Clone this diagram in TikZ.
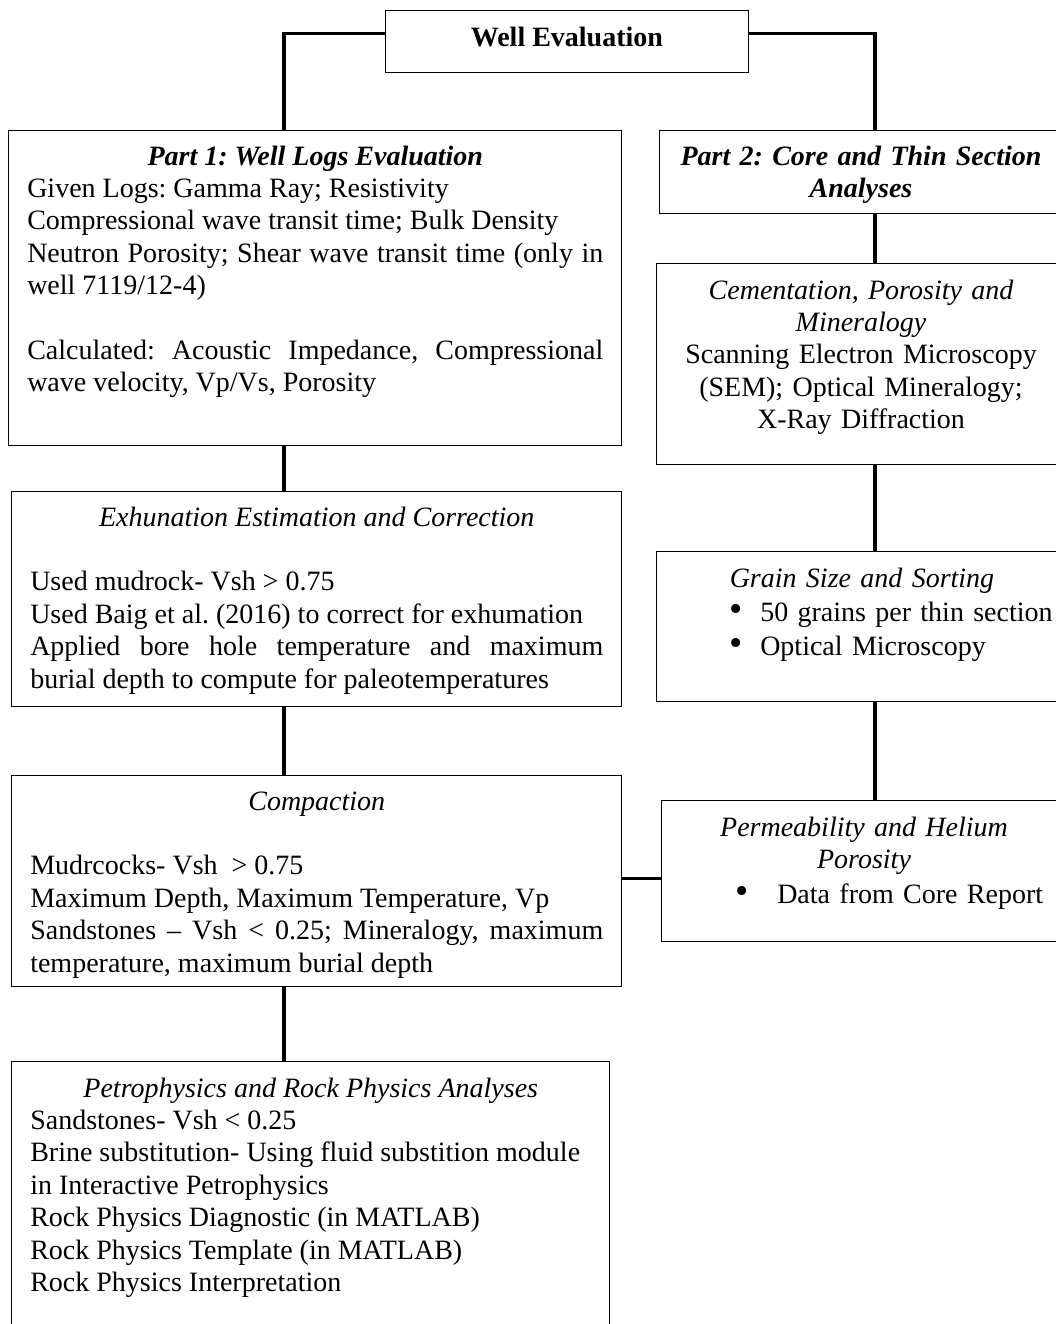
\documentclass[tikz,border=0pt]{standalone}
\usepackage{fontspec}
\setmainfont{Liberation Serif}
\usetikzlibrary{positioning}
\frenchspacing
\newcommand{\flowfont}{\fontsize{21}{24.3}\selectfont}
\newcommand{\flowbullet}{\scalebox{1.35}{\textbullet}}
\tikzset{
  box/.style 2 args={draw, line width=0.6pt, inner sep=0pt, anchor=north west,
    minimum width=#1*0.75pt, minimum height=#2*0.75pt},
  body/.style={inner sep=0pt, anchor=base west, align=justify, text width=#1*0.75pt},
  link/.style={line width=2.4pt}
}

\begin{document}
\begin{tikzpicture}[x=0.75pt, y=-0.75pt, font=\flowfont]
  \useasboundingbox (0,0) rectangle (1056,1324);
  \clip (0,0) rectangle (1056,1324);

  % boxes
  \node [box={363}{62}] (eval) at (385,10) {};
  \node [font=\flowfont\bfseries] at ([yshift=3pt]eval.center) {Well Evaluation};

  \node [box={613}{315}] (logs) at (8,130) {};
  \node [box={610}{215}] (exh) at (11,491) {};
  \node [box={610}{211}] (comp) at (11,775) {};
  \node [box={598}{270}] (petro) at (11,1061) {};

  \node [box={405}{83}] (part2) at (659,130) {};
  \node [box={408}{201}] (cem) at (656,263) {};
  \node [box={408}{150}] (grain) at (656,551) {};
  \node [box={403}{141}] (perm) at (661,800) {};

  % left column texts
  \node [body=576] (logstext) at (27,165) {%
    \makebox[\linewidth]{\bfseries\itshape Part 1: Well Logs Evaluation}\par
    Given Logs: Gamma Ray; Resistivity\par
    Compressional wave transit time; Bulk Density\par
    Neutron Porosity; Shear wave transit time (only in\linebreak
    well 7119/12-4)\par\vspace{\baselineskip}
    Calculated: Acoustic Impedance, Compressional\linebreak
    wave velocity, Vp/Vs, Porosity\par};

  \node [body=573] (exhtext) at (30,526) {%
    \makebox[\linewidth]{\itshape Exhunation Estimation and Correction}\par
    \vspace{\baselineskip}
    Used mudrock- Vsh > 0.75\par
    Used Baig et al. (2016) to correct for exhumation\par
    Applied bore hole temperature and maximum\linebreak
    burial depth to compute for paleotemperatures\par};

  \node [body=573] (comptext) at (30,810) {%
    \makebox[\linewidth]{\itshape Compaction}\par
    \vspace{\baselineskip}
    Mudrcocks- Vsh~ > 0.75\par
    Maximum Depth, Maximum Temperature, Vp\par
    Sandstones – Vsh < 0.25; Mineralogy, maximum\linebreak
    temperature, maximum burial depth\par};

  \node [body=561] (petrotext) at (30,1097) {%
    \makebox[\linewidth]{\itshape Petrophysics and Rock Physics Analyses}\par
    Sandstones- Vsh < 0.25\par
    Brine substitution- Using fluid substition module\par
    in Interactive Petrophysics\par
    Rock Physics Diagnostic (in MATLAB)\par
    Rock Physics Template (in MATLAB)\par
    Rock Physics Interpretation\par};

  % right column texts
  \node [body=390, align=center, anchor=base] (part2text) at (861,165)
    {\bfseries\itshape Part 2: Core and Thin Section\\ Analyses};
  \node [body=390, align=center, anchor=base] (cemtext) at (861,299)
    {{\itshape Cementation, Porosity and}\\ {\itshape Mineralogy}\\
     Scanning Electron Microscopy\\ (SEM); Optical Mineralogy;\\ X-Ray Diffraction};
  \node [body=390, align=center, anchor=base] (graintitle) at (862,587)
    {\itshape Grain Size and Sorting};
  \node [body=340, align=left, font=\fontsize{21}{26}\selectfont] (grainlist) at (729,621)
    {\makebox[23.25pt][l]{\flowbullet}50 grains per thin section\\
     \makebox[23.25pt][l]{\flowbullet}Optical Microscopy};
  \node [body=390, align=center, anchor=base] (permtitle) at (864,836)
    {{\itshape Permeability and Helium}\\ {\itshape Porosity}};
  \node [body=340, align=left] (permlist) at (735,903)
    {\makebox[31.5pt][l]{\flowbullet}Data from Core Report};

  % connectors
  \coordinate (spine) at (284,0);
  \coordinate (rspine) at (875,0);
  \draw [link] ([yshift=6pt]eval.west) -| (logs.north -| spine);
  \draw [link] ([yshift=6pt]eval.east) -| (part2.north -| rspine);
  \draw [link] (logs.south -| spine) -- (exh.north -| spine);
  \draw [link] (exh.south -| spine) -- (comp.north -| spine);
  \draw [link] (comp.south -| spine) -- (petro.north -| spine);
  \draw [link] (part2.south -| rspine) -- (cem.north -| rspine);
  \draw [link] (cem.south -| rspine) -- (grain.north -| rspine);
  \draw [link] (grain.south -| rspine) -- (perm.north -| rspine);
  \draw [link] ([yshift=2pt]comp.east) -- ([yshift=2pt]comp.east -| perm.west);
\end{tikzpicture}
\end{document}
